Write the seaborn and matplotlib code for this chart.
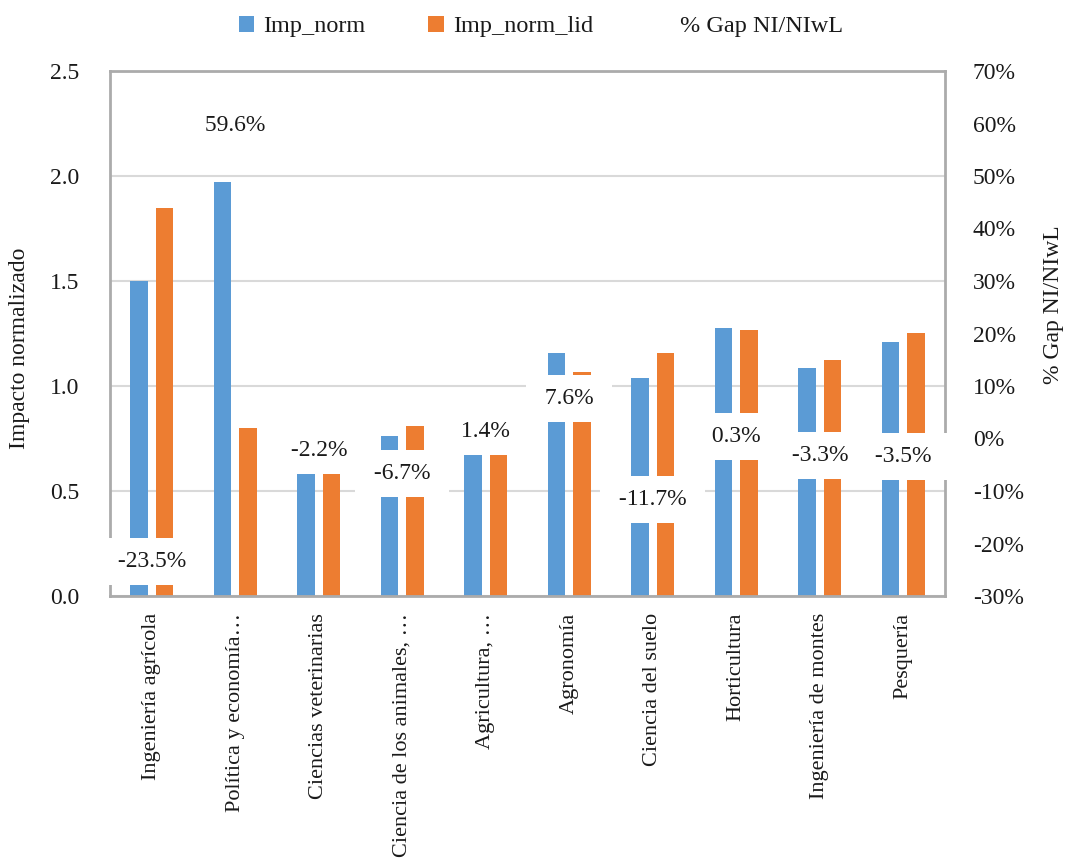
import matplotlib
matplotlib.use("Agg")
import matplotlib.pyplot as plt
import seaborn as sns
import pandas as pd
from matplotlib.patches import Patch
from matplotlib.lines import Line2D

categories = ["Ingeniería agrícola", "Política y economía…", "Ciencias veterinarias",
              "Ciencia de los animales, …", "Agricultura, …", "Agronomía",
              "Ciencia del suelo", "Horticultura", "Ingeniería de montes", "Pesquería"]
imp_norm = [1.50, 1.97, 0.59, 0.76, 0.69, 1.156, 1.037, 1.275, 1.087, 1.211]
imp_norm_lid = [1.85, 0.80, 0.60, 0.81, 0.68, 1.068, 1.159, 1.267, 1.124, 1.253]
gap_pct = [-23.5, 59.6, -2.2, -6.7, 1.4, 7.6, -11.7, 0.3, -3.3, -3.5]
series_names = ["Imp_norm", "Imp_norm_lid", "% Gap NI/NIwL"]
left_ticks = [0.0, 0.5, 1.0, 1.5, 2.0, 2.5]
right_ticks = [-30, -20, -10, 0, 10, 20, 30, 40, 50, 60, 70]

BLUE = "#5B9BD5"
ORANGE = "#ED7D31"
GRID = "#D9D9D9"
SPINE = "#ABABAB"
FS = 17
FSX = 16
FSL = 17.5

sns.set_theme(style="white")
plt.rcParams["font.family"] = ["Liberation Serif", "DejaVu Serif"]
plt.rcParams["text.color"] = "#1a1a1a"
plt.rcParams["axes.labelcolor"] = "#1a1a1a"
plt.rcParams["xtick.color"] = "#1a1a1a"
plt.rcParams["ytick.color"] = "#1a1a1a"

df = pd.DataFrame({
    "cat": categories * 2,
    "val": imp_norm + imp_norm_lid,
    "serie": [series_names[0]] * len(categories) + [series_names[1]] * len(categories),
})

fig = plt.figure(figsize=(10.65, 8.59), dpi=100)
ax = fig.add_axes([110 / 1065, 1 - 596 / 859, 835 / 1065, 525 / 859])

sns.barplot(data=df, x="cat", y="val", hue="serie", palette=[BLUE, ORANGE],
            width=0.6, gap=0.3, saturation=1, legend=False, ax=ax, zorder=2,
            linewidth=0, edgecolor="none")
ax.set_xlim(-0.5, len(categories) - 0.5)
ax.set_ylim(0, 2.5)
ax.set_yticks(left_ticks)
ax.set_yticklabels([f"{t:.1f}" for t in left_ticks], fontsize=FS)
ax.set_xticks(range(len(categories)))
ax.set_xticklabels(categories, rotation=90, fontsize=FSX)
ax.tick_params(axis="x", length=0, pad=12)
ax.tick_params(axis="y", length=0, pad=22)
ax.yaxis.grid(True, color=GRID, lw=1.5)
ax.set_axisbelow(True)
ax.set_xlabel("")
ax.set_ylabel("Impacto normalizado", fontsize=FS)
ax.yaxis.set_label_coords((30 - 110) / 835, 0.472)
for s in ax.spines.values():
    s.set_visible(False)

ax2 = ax.twinx()
ax2.set_ylim(-30, 70)
ax2.set_yticks(right_ticks)
ax2.set_yticklabels([f"{t}%" for t in right_ticks], fontsize=FS)
ax2.tick_params(axis="y", length=0, pad=20)
ax2.set_ylabel(series_names[2], fontsize=FS, rotation=90)
ax2.yaxis.set_label_coords((1043 - 110) / 835, 0.554)
ax2.grid(False)
for s in ax2.spines.values():
    s.set_visible(True)
    s.set_color(SPINE)
    s.set_linewidth(2)

for i, g in enumerate(gap_pct):
    ax2.text(i, g, f" {g:.1f}% ", ha="center", va="center", fontsize=FS,
             bbox=dict(boxstyle="square,pad=0.55", fc="white", ec="none"),
             zorder=10, clip_on=False)

handles = [Patch(facecolor=BLUE, edgecolor="none"),
           Patch(facecolor=ORANGE, edgecolor="none"),
           Line2D([], [], color="none")]
fig.legend(handles, series_names, loc="center", bbox_to_anchor=(0.508, 0.969),
           ncol=3, frameon=False, fontsize=FSL, handlelength=0.65, handleheight=0.65,
           handletextpad=0.35, columnspacing=2.6)

fig.savefig("out.png", dpi=100, facecolor="white")
